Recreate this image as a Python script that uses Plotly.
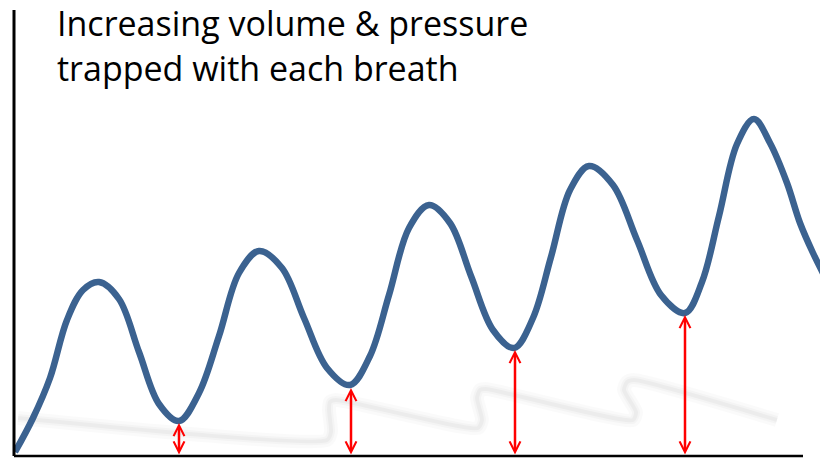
import plotly.graph_objects as go

# Breathing curve (data units: x = px offset from left axis, y = px above bottom axis)
curve_x = [1, 19, 36, 53, 69, 85, 105, 125, 145, 165, 185, 205, 225, 245, 268, 290, 313, 336,
           356, 375, 395, 415, 436, 457, 479, 500, 519, 537, 556, 575, 599, 623, 647, 671,
           688, 705, 723, 740, 756, 773, 786, 799, 814]
curve_y = [4, 38, 78, 136, 166, 174, 157, 104, 52, 35, 63, 120, 183, 205, 188, 138, 88, 71,
           100, 161, 228, 251, 233, 180, 126, 108, 138, 199, 266, 290, 271, 216, 161, 143,
           174, 240, 312, 337, 313, 273, 233, 203, 173]

# Trapped volume arrows (from baseline up to each trough)
arrow_x = [165, 337, 501, 671]
arrow_top = [33, 68, 106, 141]
arrow_base = [0, 0, 0, 0]

# Faint reflection / shadow of the baseline sawtooth
shadow_x = [4, 313, 317, 315, 316, 322, 464, 468, 463, 466, 472, 619, 622, 610, 613, 620, 763]
shadow_y = [38, 16, 24, 46, 54, 56, 28, 36, 58, 66, 67, 36, 44, 66, 74, 76, 36]

title_lines = ["Increasing volume & pressure", "trapped with each breath"]
title_y = [433, 388]

fig = go.Figure()

for w, a in [(14, 0.02), (8, 0.025), (4, 0.03)]:
    fig.add_trace(go.Scatter(x=shadow_x, y=shadow_y, mode="lines",
                             line=dict(color=f"rgba(0,0,0,{a})", width=w, shape="spline", smoothing=0.6),
                             hoverinfo="skip", showlegend=False))

fig.add_trace(go.Scatter(x=curve_x, y=curve_y, mode="lines",
                         line=dict(color="#3B6290", width=6.5, shape="spline", smoothing=1.0),
                         hoverinfo="skip", showlegend=False))

for xv, top, base in zip(arrow_x, arrow_top, arrow_base):
    fig.add_annotation(x=xv, y=top, ax=xv, ay=base, xref="x", yref="y", axref="x", ayref="y",
                       text="", showarrow=True, arrowhead=5, startarrowhead=5, arrowside="end+start",
                       arrowwidth=2.5, arrowsize=0.85, startarrowsize=0.85, arrowcolor="#FF0000",
                       standoff=0, startstandoff=0)

for txt, yv in zip(title_lines, title_y):
    fig.add_annotation(x=41, y=yv, xref="x", yref="y", text=txt, showarrow=False,
                       xanchor="left", yanchor="middle",
                       font=dict(family="Open Sans", size=34, color="#000000"))

# axes lines
fig.add_shape(type="line", xref="paper", yref="paper", x0=0, x1=0, y0=0, y1=1,
              line=dict(color="#000000", width=3))
fig.add_shape(type="line", xref="x", yref="paper", x0=0, x1=789, y0=0, y1=0,
              line=dict(color="#000000", width=2.5))

fig.update_xaxes(range=[0, 814], visible=False, fixedrange=True)
fig.update_yaxes(range=[0, 446], visible=False, fixedrange=True)
fig.update_layout(width=820, height=450, margin=dict(l=6, r=0, t=2, b=2),
                  paper_bgcolor="white", plot_bgcolor="white", showlegend=False)

fig.write_html("out.html")
